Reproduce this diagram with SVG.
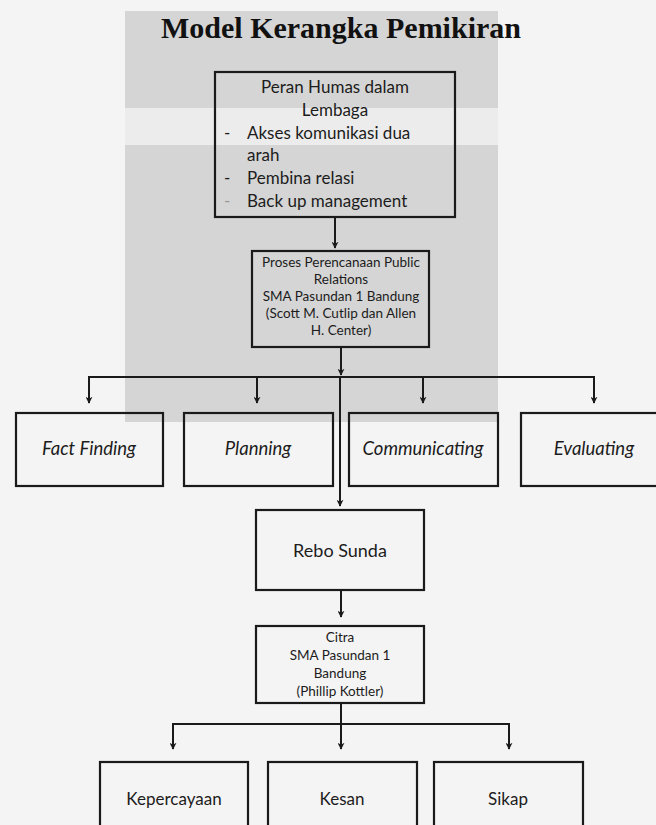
<svg xmlns="http://www.w3.org/2000/svg" width="656" height="825" viewBox="0 0 656 825">
<defs>
<marker id="ah" viewBox="0 0 10 10" refX="9" refY="5" markerWidth="7" markerHeight="7" markerUnits="userSpaceOnUse" orient="auto">
<path d="M0,0 L10,5 L0,10 L3,5 Z" fill="#1a1a1a"/>
</marker>
<style>
.box{fill:none;stroke:#1a1a1a;stroke-width:2.2}
.ln{fill:none;stroke:#1a1a1a;stroke-width:2}
.arr{fill:none;stroke:#1a1a1a;stroke-width:2;marker-end:url(#ah)}
.t{font-family:Lato,"Open Sans","Liberation Sans",sans-serif;fill:#1c1c1c}
.c{text-anchor:middle}
.i{font-style:italic}
.title{font-family:"Liberation Serif","Times New Roman",serif;font-weight:bold;font-size:30px;fill:#111;text-anchor:middle}
</style>
</defs>
<rect x="0" y="0" width="656" height="825" fill="#f4f4f4"/>
<g id="watermark">
<rect x="125" y="11" width="373" height="97" fill="#d5d5d5"/>
<rect x="125" y="108" width="373" height="37" fill="#ececec"/>
<rect x="125" y="145" width="373" height="277" fill="#d5d5d5"/>
</g>
<text class="title" x="341" y="38">Model Kerangka Pemikiran</text>
<g id="connectors">
<line class="arr" x1="335" y1="217" x2="335" y2="248"/>
<line class="arr" x1="341" y1="347" x2="341" y2="375"/>
<line class="ln" x1="88" y1="377" x2="595" y2="377"/>
<line class="arr" x1="89" y1="377" x2="89" y2="403"/>
<line class="arr" x1="257" y1="377" x2="257" y2="403"/>
<line class="arr" x1="423" y1="377" x2="423" y2="403"/>
<line class="arr" x1="594" y1="377" x2="594" y2="403"/>
<line class="arr" x1="340" y1="377" x2="340" y2="506"/>
<line class="arr" x1="341" y1="590" x2="341" y2="617"/>
<line class="ln" x1="341" y1="703" x2="341" y2="724"/>
<line class="ln" x1="172" y1="724" x2="510" y2="724"/>
<line class="arr" x1="173" y1="724" x2="173" y2="749"/>
<line class="arr" x1="341" y1="724" x2="341" y2="749"/>
<line class="arr" x1="509" y1="724" x2="509" y2="749"/>
</g>
<g id="peran-humas">
<rect class="box" x="215" y="72" width="240" height="145"/>
<text class="t c" x="335" y="93" font-size="17">Peran Humas dalam</text>
<text class="t c" x="335" y="116" font-size="17">Lembaga</text>
<text class="t" x="224" y="139" font-size="17">-</text>
<text class="t" x="247" y="139" font-size="17">Akses komunikasi dua</text>
<text class="t" x="247" y="161" font-size="17">arah</text>
<text class="t" x="224" y="184" font-size="17">-</text>
<text class="t" x="247" y="184" font-size="17">Pembina relasi</text>
<text class="t" x="224" y="207" font-size="17" style="fill:#999">-</text>
<text class="t" x="247" y="207" font-size="17">Back up management</text>
</g>
<g id="proses-pr">
<rect class="box" x="252" y="251" width="177" height="96"/>
<text class="t c" x="341" y="267" font-size="13.5">Proses Perencanaan Public</text>
<text class="t c" x="341" y="284" font-size="13.5">Relations</text>
<text class="t c" x="341" y="301" font-size="13.5">SMA Pasundan 1 Bandung</text>
<text class="t c" x="341" y="318" font-size="13.5">(Scott M. Cutlip dan Allen</text>
<text class="t c" x="341" y="335" font-size="13.5">H. Center)</text>
</g>
<g id="fact-finding">
<rect class="box" x="16" y="413" width="147" height="73"/>
<text class="t c i" x="89" y="455" font-size="18.5">Fact Finding</text>
</g>
<g id="planning">
<rect class="box" x="184" y="413" width="149" height="73"/>
<text class="t c i" x="258" y="455" font-size="18.5">Planning</text>
</g>
<g id="communicating">
<rect class="box" x="349" y="413" width="149" height="73"/>
<text class="t c i" x="423" y="455" font-size="18.5">Communicating</text>
</g>
<g id="evaluating">
<rect class="box" x="521" y="413" width="160" height="73"/>
<text class="t c i" x="594" y="455" font-size="18.5">Evaluating</text>
</g>
<g id="rebo-sunda">
<rect class="box" x="256" y="510" width="168" height="80"/>
<text class="t c" x="340" y="557" font-size="18">Rebo Sunda</text>
</g>
<g id="citra">
<rect class="box" x="256" y="626" width="168" height="77"/>
<text class="t c" x="340" y="642" font-size="13.5">Citra</text>
<text class="t c" x="340" y="660" font-size="13.5">SMA Pasundan 1</text>
<text class="t c" x="340" y="678" font-size="13.5">Bandung</text>
<text class="t c" x="340" y="696" font-size="13.5">(Phillip Kottler)</text>
</g>
<g id="kepercayaan">
<rect class="box" x="100" y="762" width="148" height="80"/>
<text class="t c" x="174" y="805" font-size="17">Kepercayaan</text>
</g>
<g id="kesan">
<rect class="box" x="268" y="762" width="149" height="80"/>
<text class="t c" x="342" y="805" font-size="17">Kesan</text>
</g>
<g id="sikap">
<rect class="box" x="434" y="762" width="149" height="80"/>
<text class="t c" x="508" y="805" font-size="17">Sikap</text>
</g>
</svg>
